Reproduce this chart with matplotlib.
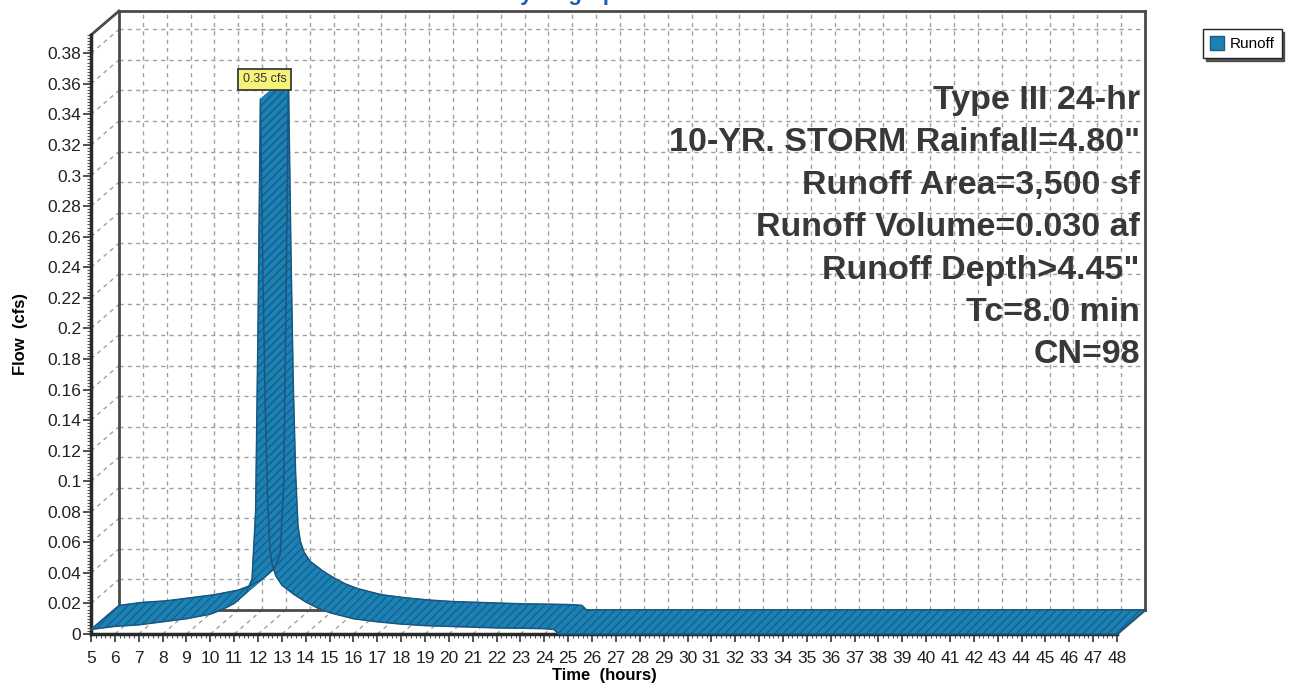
import numpy as np
import matplotlib.pyplot as plt
from matplotlib.patches import Polygon, Patch

# runoff hydrograph
hours = [5, 6, 7, 8, 9, 10, 10.5, 11, 11.5, 11.75, 11.9, 12.0, 12.1, 12.2, 12.3,
         12.4, 12.5, 12.6, 12.75, 13, 13.5, 14, 14.5, 15, 15.5, 16, 17, 18, 19,
         20, 21, 22, 23, 24, 24.4, 24.6, 30, 35, 40, 45, 48]
flow = [0.003, 0.005, 0.006, 0.008, 0.010, 0.013, 0.016, 0.020, 0.027, 0.036,
        0.08, 0.20, 0.35, 0.24, 0.15, 0.09, 0.055, 0.045, 0.038, 0.032, 0.026,
        0.021, 0.017, 0.014, 0.012, 0.010, 0.008, 0.0065, 0.0055, 0.005, 0.0045,
        0.004, 0.0038, 0.0035, 0.003, 0.0, 0.0, 0.0, 0.0, 0.0, 0.0]

x_ticks = list(range(5, 49))
y_ticks = [round(0.02 * i, 2) for i in range(20)]
y_tick_labels = ["0", "0.02", "0.04", "0.06", "0.08", "0.1", "0.12", "0.14", "0.16",
                 "0.18", "0.2", "0.22", "0.24", "0.26", "0.28", "0.3", "0.32",
                 "0.34", "0.36", "0.38"]
peak_label = "0.35 cfs"
info_lines = ["Type III 24-hr",
              '10-YR. STORM Rainfall=4.80"',
              "Runoff Area=3,500 sf",
              "Runoff Volume=0.030 af",
              'Runoff Depth>4.45"',
              "Tc=8.0 min",
              "CN=98"]

plt.rcParams["font.family"] = ["Liberation Sans", "DejaVu Sans"]

W, H = 1304, 690
fig = plt.figure(figsize=(W / 100, H / 100), dpi=100)

# front plane of the pseudo 3d chart, in pixels
left, right, bottom, top = 91, 1117, 634, 35
ax = fig.add_axes([left / W, 1 - bottom / H, (right - left) / W, (bottom - top) / H])
xmin, xmax, ymin, ymax = 5, 48, 0, 0.392
ax.set_xlim(xmin, xmax)
ax.set_ylim(ymin, ymax)
ax.patch.set_visible(False)

# depth offset (pixels -> data)
DX, DY = 28, 24
dx = DX * (xmax - xmin) / (right - left)
dy = DY * (ymax - ymin) / (bottom - top)

grid_kw = dict(color="#a0a0a0", lw=1.0, ls=(0, (3, 3)), clip_on=False, zorder=1)
# back wall grid
for t in x_ticks[1:]:
    ax.plot([t + dx, t + dx], [dy, ymax + dy], **grid_kw)
for v in y_ticks[1:]:
    ax.plot([xmin + dx, xmax + dx], [v + dy, v + dy], **grid_kw)
# side wall and floor
for v in y_ticks[1:]:
    ax.plot([xmin, xmin + dx], [v, v + dy], **grid_kw)
for t in x_ticks[1:]:
    ax.plot([t, t + dx], [0, dy], **grid_kw)

# frame of the box
frame_kw = dict(color="#4a4a4a", lw=2.0, clip_on=False, zorder=2)
ax.plot([xmin + dx, xmin + dx], [dy, ymax + dy], **frame_kw)
ax.plot([xmin + dx, xmax + dx], [ymax + dy, ymax + dy], **frame_kw)
ax.plot([xmax + dx, xmax + dx], [dy, ymax + dy], **frame_kw)
ax.plot([xmin + dx, xmax + dx], [dy, dy], **frame_kw)
ax.plot([xmin, xmin + dx], [ymax, ymax + dy], **frame_kw)
ax.plot([xmax, xmax + dx], [0, dy], **frame_kw)

# ribbon, one quad per segment so the spike fills solid
blue, dark = "#1c82b6", "#17618b"
for i in range(len(hours) - 1):
    quad = [(hours[i], flow[i]), (hours[i + 1], flow[i + 1]),
            (hours[i + 1] + dx, flow[i + 1] + dy), (hours[i] + dx, flow[i] + dy)]
    ax.add_patch(Polygon(quad, closed=True, facecolor=blue, edgecolor=blue,
                         lw=0.6, clip_on=False, zorder=3))
    ax.add_patch(Polygon(quad, closed=True, facecolor="none", edgecolor=dark,
                         hatch="////", lw=0, clip_on=False, zorder=4))
hx = np.array(hours)
fy = np.array(flow)
line_kw = dict(color="#1a5780", lw=1.1, clip_on=False, zorder=5)
ax.plot(hx, fy, **line_kw)
ax.plot(hx + dx, fy + dy, **line_kw)
ax.plot([hx[0], hx[0] + dx], [fy[0], fy[0] + dy], **line_kw)
ax.plot([hx[-1], hx[-1] + dx], [fy[-1], fy[-1] + dy], **line_kw)

# peak label
ipk = int(np.argmax(flow))
ax.annotate(peak_label, xy=(hours[ipk], flow[ipk]), xytext=(4, 20),
            textcoords="offset pixels", ha="center", va="center", fontsize=9,
            color="#333333", zorder=10,
            bbox=dict(boxstyle="square,pad=0.35", fc="#f6f27a", ec="#3a3a3a", lw=1.3))

# axes
for s in ["top", "right"]:
    ax.spines[s].set_visible(False)
for s in ["left", "bottom"]:
    ax.spines[s].set_linewidth(2.5)
    ax.spines[s].set_color("#2a2a2a")
ax.set_xticks(x_ticks)
ax.set_xticklabels([str(t) for t in x_ticks])
ax.set_xticks(np.arange(5, 48.01, 0.2), minor=True)
ax.set_yticks(y_ticks)
ax.set_yticklabels(y_tick_labels)
ax.set_yticks(np.arange(0, 0.3921, 0.002), minor=True)
ax.tick_params(which="major", length=6, width=1.2, color="#333333", labelsize=12.5,
               labelcolor="#222222", pad=1)
ax.tick_params(axis="x", which="major", pad=6)
ax.tick_params(which="minor", length=3, width=0.8, color="#555555")
ax.set_xlabel("Time  (hours)", fontsize=12, fontweight="bold", labelpad=2)
ax.set_ylabel("Flow  (cfs)", fontsize=12, fontweight="bold", labelpad=14)

# storm info
for i, line in enumerate(info_lines):
    fig.text(1140 / W, 1 - (100 + 42.5 * i) / H, line, ha="right", va="center",
             fontsize=24.5, fontweight="bold", color="#383838", zorder=20)

# cut-off title
fig.text(567 / W, 1.0, "Hydrograph", ha="center", va="baseline", fontsize=16,
         fontweight="bold", color="#1a5fb0")

leg = ax.legend(handles=[Patch(facecolor=blue, edgecolor="#1a5a80", label="Runoff")],
                loc="upper left", bbox_to_anchor=(1203 / W, 1 - 29 / H),
                bbox_transform=fig.transFigure, borderaxespad=0, fancybox=False,
                shadow={"color": "#444444", "alpha": 0.9},
                fontsize=11, handlelength=0.9, handleheight=1.0, handletextpad=0.4,
                borderpad=0.45, framealpha=1)
leg.get_frame().set_edgecolor("#222222")

fig.savefig("out.png", dpi=100)
